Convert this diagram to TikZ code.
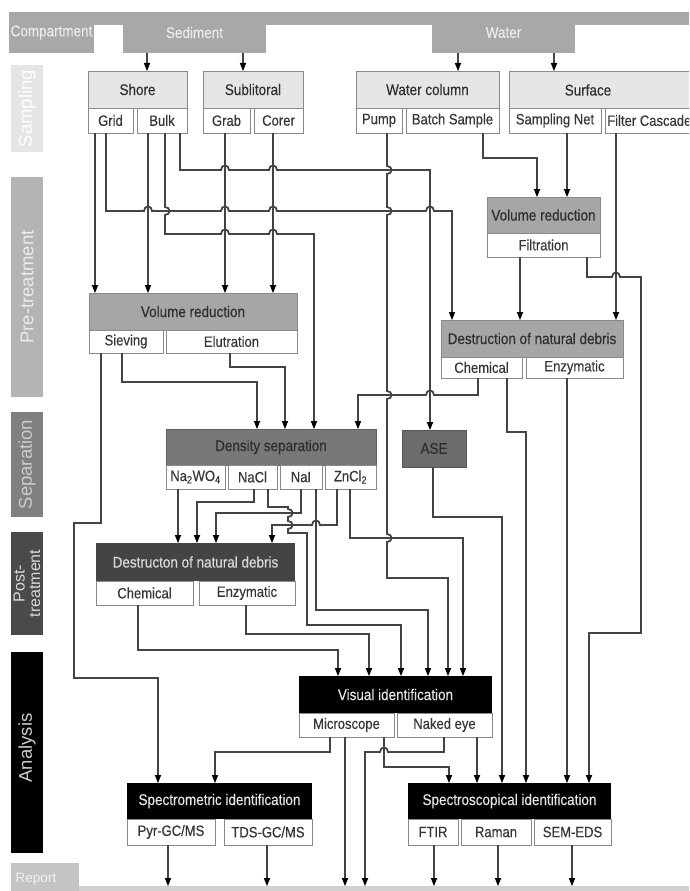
\documentclass[tikz,border=0pt]{standalone}
\usepackage{fontspec}
\setmainfont{Liberation Sans}[FakeStretch=0.87,FakeBold=0.3]
\newfontfamily\lblfont{Liberation Sans}
\usetikzlibrary{arrows.meta}
\definecolor{compfill}{HTML}{A8A8A8}
\definecolor{sampfill}{HTML}{E6E6E6}
\definecolor{prefill}{HTML}{A6A6A6}
\definecolor{sepfill}{HTML}{787878}
\definecolor{asefill}{HTML}{6C6C6C}
\definecolor{postfill}{HTML}{444444}
\definecolor{bord}{HTML}{8A8A8A}
\definecolor{ln}{HTML}{444444}
\definecolor{txtd}{HTML}{2E2E2E}
\definecolor{txts}{HTML}{363636}
\definecolor{lsamp}{HTML}{E5E5E5}
\definecolor{lpre}{HTML}{B4B4B4}
\definecolor{lsep}{HTML}{808080}
\definecolor{lpost}{HTML}{4A4A4A}
\definecolor{lrep}{HTML}{C4C4C4}
\newcommand\mf{\fontsize{15.5}{17}\selectfont}
\newcommand\sfz{\fontsize{15}{16}\selectfont}
\newcommand\bx[7]{\node[#1, minimum width={(#5-#3)*1pt}, minimum height={(#6-#4)*1pt}] (#2) at ({(#3+#5)/2},{(#4+#6)/2}) {#7};}
\newcommand\xat[2]{(#1,0 |- #2)}
\newcommand\archR[2]{-- (#1-4,#2) .. controls (#1-4,#2-6) and (#1+4,#2-6) .. (#1+4,#2)}
\newcommand\archL[2]{-- (#1+4,#2) .. controls (#1+4,#2-6) and (#1-4,#2-6) .. (#1-4,#2)}
\newcommand\bumpD[2]{-- (#1,#2-4) .. controls (#1+6,#2-4) and (#1+6,#2+4) .. (#1,#2+4)}
\tikzset{
 boxbase/.style={inner sep=0pt, outer sep=0pt, line width=1pt},
 compbox/.style={boxbase, fill=compfill, text=white!92!black, font=\mf},
 sampH/.style={boxbase, draw=bord, fill=sampfill, text=txtd, font=\mf},
 sub/.style={boxbase, draw=bord, fill=white, text=txts, font=\sfz},
 preH/.style={boxbase, draw=bord, fill=prefill, text=txtd, font=\mf},
 sepH/.style={boxbase, draw=sepfill!80!black, fill=sepfill, text=txtd, font=\mf},
 aseS/.style={boxbase, draw=asefill!80!black, fill=asefill, text=txtd, font=\mf},
 postH/.style={boxbase, fill=postfill, text=white!85!black, font=\mf},
 anaH/.style={boxbase, fill=black, text=white!90!black, font=\mf},
 lab/.style={rotate=90, font=\lblfont\fontsize{18.5}{19}\selectfont, inner sep=0pt},
 conn/.style={draw=ln, line width=1.8pt, -{Triangle[length=8pt,width=6.5pt,fill=black,line width=0pt]}},
}
\begin{document}
\begin{tikzpicture}[x=1pt,y=-1pt]
\clip (0,0) rectangle (689,891);
\fill[white] (0,0) rectangle (689,891);
% ---------- left label column ----------
\fill[compfill] (9,12) rectangle (689,25);
\bx{compbox}{comp}{9}{12}{94}{53}{Compartment}
\bx{compbox}{sed}{123}{12}{266}{53}{Sediment}
\bx{compbox}{wat}{432}{12}{575}{53}{Water}
\fill[lsamp] (11,65) rectangle (43,152);
\node[lab, text=white] (lsampling) at (27,108.5) {Sampling};
\fill[lpre] (11,177) rectangle (43,397);
\node[lab, text=white!92!black] (lpretreat) at (27,287) {Pre-treatment};
\fill[lsep] (11,412) rectangle (43,517);
\node[lab, text=white!80!black] (lseparation) at (27,464.5) {Separation};
\fill[lpost] (11,532) rectangle (43,635);
\node[lab, text=white!85!black, align=center, font=\lblfont\fontsize{16}{15.5}\selectfont] (lpost) at (27,583.5) {Post-\\treatment};
\fill[black] (11,652) rectangle (43,853);
\node[lab, text=white!80!black] (lanalysis) at (27,748) {Analysis};
\fill[lrep] (11,863) rectangle (79,891);
\fill[lrep!80!white] (79,886) rectangle (689,891);
\node[font=\lblfont\fontsize{13.5}{14}\selectfont, text=white!95!black, inner sep=0pt] (lreport) at (36,879) {Report};
\coordinate (repline) at (0,886);
% ---------- sampling ----------
\bx{sampH}{shore}{88}{71}{187}{108}{Shore}
\bx{sub}{grid}{88}{108}{133}{133}{Grid}
\bx{sub}{bulk}{137}{108}{187}{133}{Bulk}
\bx{sampH}{subl}{203}{71}{303}{108}{Sublitoral}
\bx{sub}{grab}{203}{108}{250}{133}{Grab}
\bx{sub}{corer}{254}{108}{303}{133}{Corer}
\bx{sampH}{wcol}{356}{71}{499}{108}{Water column}
\bx{sub}{pump}{356}{108}{402}{133}{Pump}
\bx{sub}{batch}{406}{108}{499}{133}{Batch Sample}
\bx{sampH}{surf}{509}{71}{700}{108}{}
\node[font=\mf, text=txtd] (surft) at (588,90) {Surface};
\bx{sub}{net}{509}{108}{601}{133}{Sampling Net}
\bx{sub}{cascade}{605}{108}{700}{133}{}
\node[font=\sfz, text=txts, anchor=west, inner sep=0pt] (cascadet) at (607,120.5) {Filter Cascade};
% ---------- pre-treatment ----------
\bx{preH}{vrL}{89}{293}{297}{330}{Volume reduction}
\bx{sub}{siev}{89}{330}{163}{353}{Sieving}
\bx{sub}{elut}{166}{330}{297}{353}{Elutration}
\bx{preH}{vrR}{487}{197}{600}{233}{Volume reduction}
\bx{sub}{filt}{487}{233}{600}{257}{Filtration}
\bx{preH}{ddR}{441}{320}{623}{357}{Destruction of natural debris}
\bx{sub}{chemR}{441}{357}{522}{378}{Chemical}
\bx{sub}{enzR}{526}{357}{623}{378}{Enzymatic}
% ---------- separation ----------
\bx{sepH}{dens}{166}{429}{376}{465}{Density separation}
\bx{sub}{na2wo4}{166}{465}{225}{489}{Na\textsubscript{2}WO\textsubscript{4}}
\bx{sub}{nacl}{228}{465}{277}{489}{NaCl}
\bx{sub}{nai}{280}{465}{322}{489}{NaI}
\bx{sub}{zncl2}{325}{465}{376}{489}{ZnCl\textsubscript{2}}
\bx{aseS}{ase}{402}{430}{466}{467}{ASE}
% ---------- post-treatment ----------
\bx{postH}{ddP}{96}{543}{295}{581}{Destructon of natural debris}
\bx{sub}{chemP}{96}{581}{193}{605}{Chemical}
\bx{sub}{enzP}{199}{581}{295}{605}{Enzymatic}
% ---------- analysis ----------
\bx{anaH}{vis}{299}{676}{492}{713}{Visual identification}
\bx{sub}{micro}{299}{713}{394}{737}{Microscope}
\bx{sub}{naked}{397}{713}{492}{737}{Naked eye}
\bx{anaH}{spm}{127}{783}{312}{819}{Spectrometric identification}
\bx{sub}{pyr}{127}{819}{215}{845}{Pyr-GC/MS}
\bx{sub}{tds}{224}{819}{312}{845}{TDS-GC/MS}
\bx{anaH}{sps}{408}{783}{611}{819}{Spectroscopical identification}
\bx{sub}{ftir}{408}{819}{458}{845}{FTIR}
\bx{sub}{raman}{461}{819}{531}{845}{Raman}
\bx{sub}{sem}{534}{819}{611}{845}{SEM-EDS}
% ---------- connectors ----------
\draw[conn] \xat{147}{sed.south} -- \xat{147}{shore.north};
\draw[conn] \xat{243}{sed.south} -- \xat{243}{subl.north};
\draw[conn] \xat{458}{wat.south} -- \xat{458}{wcol.north};
\draw[conn] \xat{554}{wat.south} -- \xat{554}{surf.north};
\draw[conn] \xat{95}{grid.south} -- \xat{95}{vrL.north};
\draw[conn] \xat{106}{grid.south} -- (106,211) \archR{148}{211} \archR{225}{211} \archR{273}{211} \archR{430}{211} -- (452,211) -- \xat{452}{ddR.north};
\draw[conn] \xat{148}{bulk.south} -- \xat{148}{vrL.north};
\draw[conn] \xat{165}{bulk.south} \bumpD{165}{211} -- (165,234) \archR{225}{234} \archR{273}{234} -- (314,234) -- \xat{314}{dens.north};
\draw[conn] \xat{180}{bulk.south} -- (180,170) \archR{225}{170} \archR{273}{170} -- (430,170) -- \xat{430}{ase.north};
\draw[conn] \xat{225}{grab.south} -- \xat{225}{vrL.north};
\draw[conn] \xat{273}{corer.south} -- \xat{273}{vrL.north};
\draw[conn] \xat{387}{pump.south} \bumpD{387}{170} \bumpD{387}{211} \bumpD{387}{395} \bumpD{387}{538} -- (387,578) -- (448,578) -- \xat{448}{vis.north};
\draw[conn] \xat{483}{batch.south} -- (483,158) -- (537,158) -- \xat{537}{vrR.north};
\draw[conn] \xat{567}{net.south} -- \xat{567}{vrR.north};
\draw[conn] \xat{616}{cascade.south} -- \xat{616}{ddR.north};
\draw[conn] \xat{520}{filt.south} -- \xat{520}{ddR.north};
\draw[conn] \xat{587}{filt.south} -- (587,277) \archR{616}{277} -- (641,277) -- (641,633) -- (589,633) -- \xat{589}{sps.north};
\draw[conn] \xat{478}{chemR.south} -- (478,395) \archL{430}{395} -- (358,395) -- \xat{358}{dens.north};
\draw[conn] \xat{507}{chemR.south} -- (507,432) -- (526,432) -- \xat{526}{sps.north};
\draw[conn] \xat{567}{enzR.south} -- \xat{567}{sps.north};
\draw[conn] \xat{101}{siev.south} -- (101,523) -- (74,523) -- (74,678) -- (158,678) -- \xat{158}{spm.north};
\draw[conn] \xat{122}{siev.south} -- (122,382) -- (257,382) -- \xat{257}{dens.north};
\draw[conn] \xat{230}{elut.south} -- (230,367) -- (285,367) -- \xat{285}{dens.north};
\draw[conn] \xat{433}{ase.south} -- (433,517) -- (502,517) -- \xat{502}{sps.north};
\draw[conn] \xat{178}{na2wo4.south} -- \xat{178}{ddP.north};
\draw[conn] \xat{254}{nacl.south} -- (254,502) -- (197,502) -- \xat{197}{ddP.north};
\draw[conn] \xat{268}{nacl.south} -- (268,507) -- (288,507) \bumpD{288}{513} \bumpD{288}{525} -- (288,533) -- (307,533) -- (307,625) -- (401,625) -- \xat{401}{vis.north};
\draw[conn] \xat{301}{nai.south} -- (301,513) -- (216,513) -- \xat{216}{ddP.north};
\draw[conn] \xat{337}{zncl2.south} -- (337,525) \archL{316}{525} -- (272,525) -- \xat{272}{ddP.north};
\draw[conn] \xat{350}{zncl2.south} -- (350,538) -- (463,538) -- \xat{463}{vis.north};
\draw[conn] \xat{316}{nai.south} -- (316,610) -- (428,610) -- \xat{428}{vis.north};
\draw[conn] \xat{138}{chemP.south} -- (138,650) -- (338,650) -- \xat{338}{vis.north};
\draw[conn] \xat{246}{enzP.south} -- (246,634) -- (369,634) -- \xat{369}{vis.north};
\draw[conn] \xat{330}{micro.south} -- (330,752) -- (215,752) -- \xat{215}{spm.north};
\draw[conn] \xat{345}{micro.south} -- \xat{345}{repline};
\draw[conn] \xat{384}{micro.south} -- (384,767) -- (449,767) -- \xat{449}{sps.north};
\draw[conn] \xat{444}{naked.south} -- (444,752) \archL{384}{752} -- (365,752) -- \xat{365}{repline};
\draw[conn] \xat{477}{naked.south} -- \xat{477}{sps.north};
\draw[conn] \xat{168}{pyr.south} -- \xat{168}{repline};
\draw[conn] \xat{267}{tds.south} -- \xat{267}{repline};
\draw[conn] \xat{434}{ftir.south} -- \xat{434}{repline};
\draw[conn] \xat{498}{raman.south} -- \xat{498}{repline};
\draw[conn] \xat{572}{sem.south} -- \xat{572}{repline};
\end{tikzpicture}
\end{document}
